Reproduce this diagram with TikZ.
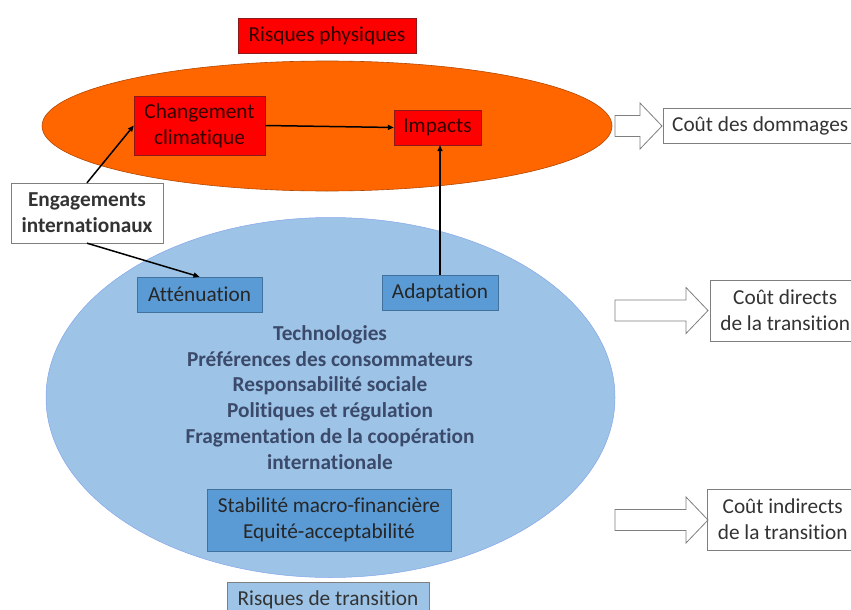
\documentclass[tikz,border=0pt]{standalone}
\usepackage{fontspec}
\setmainfont{Carlito}[Ligatures=NoCommon]
\usepackage{xcolor}
\usepackage{tikz}
\usetikzlibrary{arrows.meta}
\definecolor{orng}{HTML}{FF6600}
\definecolor{orngline}{HTML}{B34700}
\definecolor{rouge}{HTML}{FF0000}
\definecolor{rougeline}{HTML}{8C1A1A}
\definecolor{lightblue}{HTML}{9DC3E6}
\definecolor{midblue}{HTML}{5B9BD5}
\definecolor{blueline}{HTML}{41719C}
\definecolor{listcol}{HTML}{3B4A6B}
\definecolor{greyline}{HTML}{7F7F7F}

\begin{document}
\begin{tikzpicture}[x=1pt,y=-1pt,
    font=\fontsize{21.3}{26}\selectfont,
    redbox/.style={draw=rougeline,fill=rouge,text=black!80!red,align=center,inner sep=0pt},
    bluebox/.style={draw=blueline,fill=midblue,text=black!85,align=center,inner sep=0pt},
    costbox/.style={draw=greyline,fill=white,text=black!80,align=center,inner sep=0pt},
    hollow/.style={draw=greyline,fill=white,line width=0.8pt,line join=miter},
    link/.style={-{Triangle[length=6pt,width=5pt]},line width=1.5pt}]
            \useasboundingbox (0,0) rectangle (851,610);
            \draw[orngline,fill=orng,line width=0.6pt] (327,126) ellipse [x radius=285pt, y radius=65pt];
            \draw[lightblue!85!blue,fill=lightblue,line width=0.5pt] (330.5,397.5) ellipse [x radius=284.5pt, y radius=180pt];
            \node[redbox,minimum width=178pt,minimum height=35pt] (rphys) at (327,35.5) {Risques physiques};
            \node[redbox,minimum width=131pt,minimum height=59pt] (chg) at (199.5,125.5) {Changement\\climatique};
            \node[redbox,minimum width=87pt,minimum height=35pt] (imp) at (437.5,127.5) {Impacts};
            \node[costbox,minimum width=152pt,minimum height=60pt,font=\fontsize{21.3}{26}\selectfont\bfseries] (eng) at (87,213) {Engagements\\internationaux};
            \node[bluebox,minimum width=125pt,minimum height=35pt] (att) at (199.5,294.5) {Atténuation};
            \node[bluebox,minimum width=116pt,minimum height=35pt] (adp) at (440,292.5) {Adaptation};
            \node[align=center,text=listcol,font=\fontsize{21.3}{25.8}\selectfont\bfseries] (drivers) at (330,397.5) {Technologies\\Préférences des consommateurs\\Responsabilité sociale\\Politiques et régulation\\Fragmentation de la coopération\\internationale};
            \node[bluebox,minimum width=244pt,minimum height=62pt] (stab) at (329,520) {Stabilité macro-financière\\Equité-acceptabilité};
            \node[costbox,fill=lightblue,minimum width=202pt,minimum height=36pt,anchor=north] (rtrans) at (328,582) {Risques de transition};
            \node[costbox,minimum width=194pt,minimum height=35pt,anchor=west] (cdom) at (663,125.5) {Coût des dommages};
            \node[costbox,minimum width=150pt,minimum height=61pt,anchor=west] (cdir) at (710,310.5) {Coût directs\\de la transition};
            \node[costbox,minimum width=151pt,minimum height=61pt,anchor=west] (cind) at (707,519.5) {Coût indirects\\de la transition};
            \foreach \yc/\xb/\xt in {126/640/662, 310.5/686/708, 520/686/708}
                \draw[hollow] (615,\yc-10.5) -- (\xb,\yc-10.5) -- (\xb,\yc-23) -- (\xt,\yc) -- (\xb,\yc+23) -- (\xb,\yc+10.5) -- (615,\yc+10.5) -- cycle;
            \draw[link] (chg.east) -- (imp.west);
            \draw[link] (eng.north) -- (chg.west);
            \draw[link] (eng.south) -- (att.north);
            \draw[link] (adp.north) -- (adp.north |- imp.south);
        \end{tikzpicture}
\end{document}
